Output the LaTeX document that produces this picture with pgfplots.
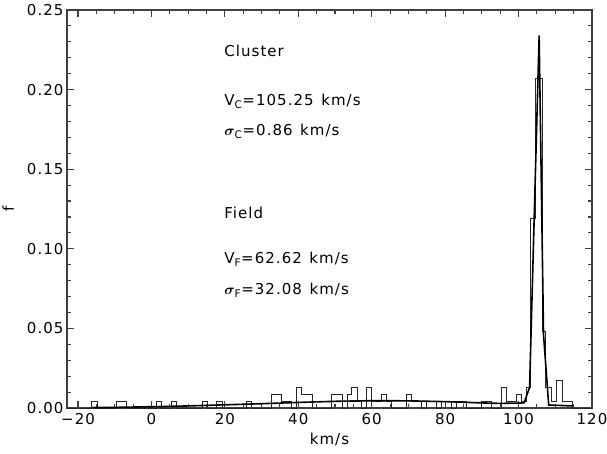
\documentclass[border=0pt]{standalone}
\usepackage{pgfplots}
\pgfplotsset{compat=1.18}
\usepackage{fontspec}
\setmainfont{DejaVu Sans}[LetterSpace=7]

% histogram of velocities (bin left edge, f), const plot
\pgfplotstableread{
x f
-23.0 0
-16.3 0.0044
-14.85 0
-9.55 0.0044
-6.75 0
1.4 0.0044
2.8 0
5.45 0.0044
6.9 0
13.75 0.0044
15.15 0
17.8 0.0044
19.2 0
25.9 0.0044
27.3 0
32.8 0.0088
35.5 0.0044
38.2 0
39.55 0.0132
40.9 0.0088
43.75 0
49.0 0.0088
51.9 0
53.3 0.0088
54.5 0.0132
56.0 0.0044
57.3 0
58.6 0.0132
60.0 0.0044
62.7 0.0088
64.1 0.0044
65.4 0
69.5 0.0088
70.9 0.0044
73.6 0
74.9 0.0044
77.6 0
79.0 0.0044
81.7 0
83.1 0.0044
85.8 0
89.8 0.0044
92.5 0
95.3 0.0132
96.8 0.0044
99.3 0.0088
100.9 0.0044
102.0 0.0132
103.3 0.1188
104.7 0.2068
106.4 0.0484
107.3 0.0132
109.0 0.0044
110.4 0.0176
111.8 0.0044
114.6 0
120.0 0
}\histdata

% fitted curve
\pgfplotstableread{
x f
-16 0.0003
-10 0.0004
0 0.0008
10 0.0013
20 0.0020
30 0.0027
40 0.0035
50 0.0042
60 0.0046
70 0.0045
80 0.0040
90 0.0032
95 0.0029
101.5 0.0032
103.0 0.013
105.6 0.234
106.8 0.046
108.2 0.0019
114.7 0.0013
}\fitdata

\begin{document}
\begin{tikzpicture}
\begin{axis}[
  name=ax,
  scale only axis,
  width=525pt, height=398pt,
  xmin=-23, xmax=120, ymin=0, ymax=0.25,
  xtick={-20,0,20,40,60,80,100,120},
  xticklabels={−20,0,20,40,60,80,100,120},
  minor x tick num=3,
  ytick={0,0.05,0.10,0.15,0.20,0.25},
  yticklabels={0.00,0.05,0.10,0.15,0.20,0.25},
  minor y tick num=4,
  tick pos=both,
  tick align=inside,
  major tick length=7pt,
  minor tick length=4pt,
  axis line style={black!75, line width=1.1pt},
  tick style={black!75, line width=1.1pt},
  font=\fontsize{15}{18}\selectfont,
  xlabel={km/s},
  ylabel={f},
  xlabel style={at={(axis description cs:0.5,-0.08)}, anchor=center},
  ylabel style={at={(axis description cs:-0.112,0.5)}, anchor=center},
  xticklabel style={yshift=-2pt},
]
\addplot[const plot, black!85, line width=0.8pt] table[x=x, y=f] {\histdata};
\addplot[black, line width=1.6pt] table[x=x, y=f] {\fitdata};

\node[anchor=west, inner sep=0pt] at (axis cs:19.8,0.224) {Cluster};
\node[anchor=west, inner sep=0pt] at (axis cs:19.8,0.1924) {V\textsubscript{C}=105.25\hspace{0.5em}km/s};
\node[anchor=west, inner sep=0pt] at (axis cs:19.8,0.1736) {{\boldmath$\sigma$}\textsubscript{C}=0.86\hspace{0.5em}km/s};
\node[anchor=west, inner sep=0pt] at (axis cs:19.8,0.1227) {Field};
\node[anchor=west, inner sep=0pt] at (axis cs:19.8,0.0934) {V\textsubscript{F}=62.62\hspace{0.5em}km/s};
\node[anchor=west, inner sep=0pt] at (axis cs:19.8,0.0741) {{\boldmath$\sigma$}\textsubscript{F}=32.08\hspace{0.5em}km/s};
\end{axis}
\pgfresetboundingbox
\path[use as bounding box] ([shift={(-67pt,-45pt)}]ax.south west) rectangle ([shift={(15pt,10pt)}]ax.north east);
\end{tikzpicture}
\end{document}
